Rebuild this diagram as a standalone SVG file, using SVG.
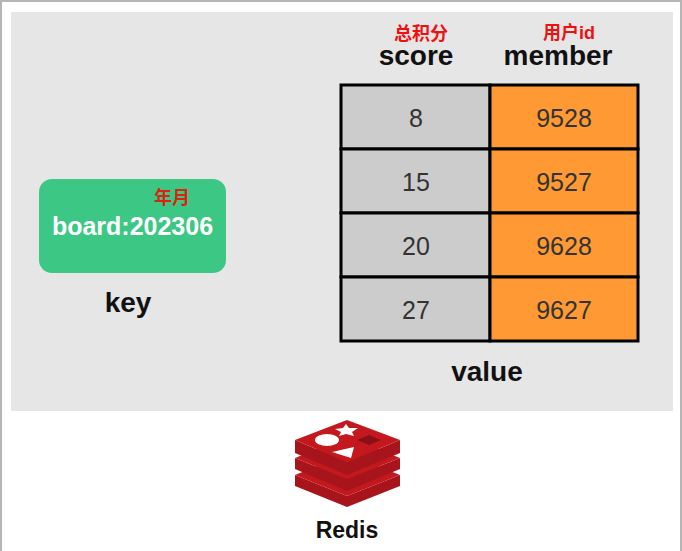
<svg xmlns="http://www.w3.org/2000/svg" width="682" height="551" viewBox="0 0 682 551">
<style>
text{font-family:"Liberation Sans","Noto Sans CJK SC",sans-serif;text-anchor:middle}
.h{font-weight:bold;font-size:28px;fill:#111}
.r{font-weight:bold;font-size:18px;fill:#ee1111}
.n{font-size:25px;fill:#333}
.g{fill:#cccccc;stroke:#000;stroke-width:3}
.o{fill:#ff9933;stroke:#000;stroke-width:3}
.side{fill:#a8141b}
.top{fill:#c4181f}
</style>
<rect width="682" height="551" fill="#fff"/>
<path d="M1 551V1H681V551" fill="none" stroke="#b5b5b5" stroke-width="2"/>
<rect id="panel" x="11" y="12" width="662" height="399" fill="#e6e6e6"/>
<g id="key">
<rect x="39" y="179" width="187" height="94" rx="13" fill="#3cc884"/>
<text x="172" y="204" class="r" style="fill:#dd2211">年月</text>
<text x="132.500" y="235" font-size="25" font-weight="bold" fill="#fff">board:202306</text>
<text x="128" y="312" class="h">key</text>
</g>
<g id="headers">
<text x="421" y="40" class="r">总积分</text>
<text x="569" y="39" class="r">用户id</text>
<text x="416" y="65" class="h">score</text>
<text x="558" y="65" class="h">member</text>
</g>
<g id="table">
<rect class="g" x="341" y="85" width="149" height="64"/><rect class="o" x="490" y="85" width="148" height="64"/>
<rect class="g" x="341" y="149" width="149" height="64"/><rect class="o" x="490" y="149" width="148" height="64"/>
<rect class="g" x="341" y="213" width="149" height="64"/><rect class="o" x="490" y="213" width="148" height="64"/>
<rect class="g" x="341" y="277" width="149" height="64"/><rect class="o" x="490" y="277" width="148" height="64"/>
<text class="n" x="416" y="127">8</text><text class="n" x="564" y="127">9528</text>
<text class="n" x="416" y="191">15</text><text class="n" x="564" y="191">9527</text>
<text class="n" x="416" y="255">20</text><text class="n" x="564" y="255">9628</text>
<text class="n" x="416" y="319">27</text><text class="n" x="564" y="319">9627</text>
<text x="487" y="381" class="h">value</text>
</g>
<g id="redis">
<path class="side" d="M295 475V486L347 507L400 486V475L347 496Z"/>
<path class="top" d="M295 475L347 454L400 475L347 496Z"/>
<path class="side" d="M295 458V469L347 491L400 469V458L347 479Z"/>
<path class="top" d="M295 458L347 437L400 458L347 479Z"/>
<path class="side" d="M295 440V453L347 475L400 453V440L347 462Z"/>
<path class="top" d="M295 440L347 420L400 440L347 462Z"/>
<ellipse cx="327" cy="440" rx="12" ry="6" fill="#fff"/>
<path d="M346 424L349 428L358 428L352 432L354 436L346 434L339 436L341 432L335 429L343 428Z" fill="#fff"/>
<path d="M332 452L354 447L351 458Z" fill="#fff"/>
<path d="M357 440L369 435L381 440L369 445Z" fill="#8a1016"/>
<text x="347" y="538" font-size="23" font-weight="bold" fill="#111">Redis</text>
</g>
</svg>
